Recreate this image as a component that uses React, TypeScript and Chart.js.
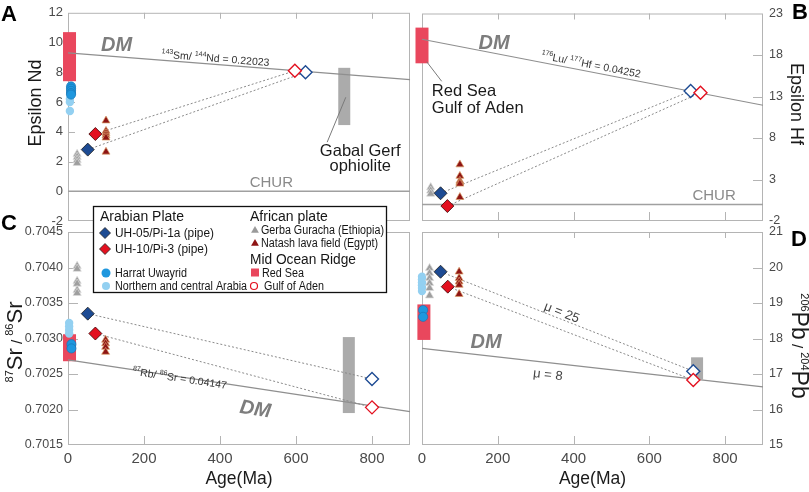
import React, { useEffect, useRef } from "react";
import { Chart, registerables } from "chart.js";
Chart.register(...registerables);

const FONT = "'Liberation Sans', Arial, Helvetica, sans-serif";
const W = 809;
const H = 492;

// colours
const NAVY = "#1d4b93";
const RED = "#e3101f";
const HARRAT = "#1f97de";
const NORTH = "#93d0f1";
const GERBA = "#9e9e9e";
const NATASH = "#8e1414";
const REDSEA = "#e9475d";
const GERF = "#ababab";
const LINE = "#8f8f8f";
const DOT = "#8a8a8a";
const FRAME = "#b4b4b4";

// ---------- shared age axis ----------
const ageMin = 0;
const ageMax = 900;
const ageTicks = [0, 200, 400, 600, 800];
const innerAgeTicks = [200, 400, 600, 800];
const dmAges = [0, 900];

// ---------- A : Epsilon Nd ----------
const ndTicks = [-2, 0, 2, 4, 6, 8, 10, 12];
const ndDM = [9.3, 7.5];
const ndChur = [0, 0];
const ndRedSeaAge = 4;
const ndRedSea = [7.4, 10.7];
const ndGerfAge = 727;
const ndGerf = [4.45, 8.3];
const ndHarratAge = 8;
const ndHarrat = [7.05, 6.9, 6.75, 6.6, 6.5];
const ndNorthAge = 5;
const ndNorth = [6.2, 6.0, 5.4];
const ndGerbaAge = 24;
const ndGerba = [2.5, 2.3, 2.1, 1.9];
const ndNatashAge = 100;
const ndNatash = [4.75, 4.05, 3.9, 3.75, 3.6, 2.65];
const ndUH05 = [52, 2.8];
const ndUH05Model = [625, 8.0];
const ndUH10 = [72, 3.85];
const ndUH10Model = [597, 8.1];

// ---------- B : Epsilon Hf ----------
const hfTicks = [-2, 3, 8, 13, 18, 23];
const hfDM = [19.9, 11.95];
const hfChur = [0, 0];
const hfRedSeaAge = 0;
const hfRedSea = [17.0, 21.3];
const hfGerbaAge = 23;
const hfGerba = [2.05, 1.65, 1.28];
const hfNatashAge = 100;
const hfNatash = [4.8, 3.42, 2.83, 2.65, 2.48, 0.87];
const hfUH05 = [49, 1.34];
const hfUH05Model = [709, 13.65];
const hfUH10 = [67, -0.2];
const hfUH10Model = [735, 13.45];

// ---------- C : 87Sr/86Sr ----------
const srTicks = [0.7015, 0.702, 0.7025, 0.703, 0.7035, 0.704, 0.7045];
const srDM = [0.7027, 0.70197];
const srRedSeaAge = 4;
const srRedSea = [0.70268, 0.70306];
const srGerfAge = 739;
const srGerf = [0.70195, 0.70302];
const srHarratAge = 9;
const srHarrat = [0.70292, 0.70286];
const srNorthAge = 3;
const srNorth = [0.70322, 0.70317, 0.70312, 0.70307];
const srGerbaAge = 24;
const srGerba = [0.70402, 0.70398, 0.70381, 0.70377, 0.70368, 0.70364];
const srNatashAge = 99;
const srNatash = [0.70298, 0.70293, 0.70288, 0.70281];
const srUH05 = [52, 0.70335];
const srUH05Model = [800, 0.70243];
const srUH10 = [72, 0.70307];
const srUH10Model = [800, 0.70203];

// ---------- D : 206Pb/204Pb ----------
const pbTicks = [15, 16, 17, 18, 19, 20, 21];
const pbDM = [17.72, 16.64];
const pbRedSeaAge = 5;
const pbRedSea = [17.96, 18.96];
const pbGerfAge = 726;
const pbGerf = [16.85, 17.47];
const pbHarratAge = 3;
const pbHarrat = [18.8, 18.61];
const pbNorthAge = 0;
const pbNorth = [19.74, 19.66, 19.58, 19.5, 19.42, 19.34];
const pbGerbaAge = 20;
const pbGerba = [19.98, 19.84, 19.7, 19.56, 19.42, 19.21];
const pbNatashAge = 98;
const pbNatash = [19.88, 19.7, 19.6, 19.51, 19.25];
const pbUH05 = [49, 19.88];
const pbUH05Model = [716, 17.08];
const pbUH10 = [68, 19.46];
const pbUH10Model = [716, 16.83];

// ---------- helpers ----------
type Seg = { t: string; s: number; sup?: boolean; f?: string };
type Note = {
  x: number;
  y: number;
  segs: Seg[];
  color: string;
  main: number;
  align?: "left" | "center";
  along?: number[][];
};

const pts = (age: number, ys: number[]) => ys.map((y) => ({ x: age, y }));
const pt = (p: number[]) => [{ x: p[0], y: p[1] }];
const seg = (a: number[], b: number[]) => [
  { x: a[0], y: a[1] },
  { x: b[0], y: b[1] },
];

const mk = (data: any[], style: string, r: number, bg: string, bd: string, bw: number) => ({
  data,
  pointStyle: style,
  pointRadius: r,
  pointBackgroundColor: bg,
  pointBorderColor: bd,
  pointBorderWidth: bw,
  showLine: false,
  clip: false,
});
const ln = (data: any[], color: string, width: number, dash: number[] = []) => ({
  data,
  showLine: true,
  borderColor: color,
  borderWidth: width,
  borderDash: dash,
  pointRadius: 0,
  fill: false,
  clip: false,
});

function drawRich(
  ctx: CanvasRenderingContext2D,
  segs: Seg[],
  cx: number,
  cy: number,
  rot: number,
  main: number,
  color: string,
  align: "left" | "center" = "center"
) {
  ctx.save();
  ctx.translate(cx, cy);
  ctx.rotate(rot);
  ctx.fillStyle = color;
  ctx.textBaseline = "alphabetic";
  ctx.textAlign = "left";
  const fonts = segs.map((s) => `${s.f || ""} ${s.s}px ${FONT}`.trim());
  let total = 0;
  const widths = segs.map((s, i) => {
    ctx.font = fonts[i];
    const w = ctx.measureText(s.t).width;
    total += w;
    return w;
  });
  let x = align === "center" ? -total / 2 : 0;
  const base = main * 0.36;
  segs.forEach((s, i) => {
    ctx.font = fonts[i];
    ctx.fillText(s.t, x, base - (s.sup ? main * 0.42 : 0));
    x += widths[i];
  });
  ctx.restore();
}

type Rect = { age: number; range: number[]; color: string; w: number };
type Title = { x: number; y: number; rot: number; segs: Seg[]; main: number };

interface PanelCfg {
  pad: { left: number; top: number; right: number; bottom: number };
  yMin: number;
  yMax: number;
  yTicks: number[];
  yPos: "left" | "right";
  yWidth: number;
  yFont: number;
  yDigits: number;
  yTickLen: number;
  showX: boolean;
  datasets: any[];
  rects: Rect[];
  notes: Note[];
  leaders: number[][][];
  title: Title;
  letter: { t: string; x: number; y: number };
  legend?: boolean;
}

function drawLegend(ctx: CanvasRenderingContext2D) {
  ctx.save();
  ctx.fillStyle = "#fff";
  ctx.fillRect(93, 206, 293, 86);
  ctx.strokeStyle = "#111";
  ctx.lineWidth = 1.3;
  ctx.strokeRect(93.5, 206.5, 293, 86);
  const txt = (t: string, x: number, y: number, size: number, maxW: number) => {
    ctx.fillStyle = "#151515";
    ctx.font = `${size}px ${FONT}`;
    ctx.textAlign = "left";
    ctx.textBaseline = "middle";
    ctx.fillText(t, x, y + 0.5, maxW);
  };
  const diamond = (x: number, y: number, r: number, fill: string) => {
    ctx.beginPath();
    ctx.moveTo(x - r, y);
    ctx.lineTo(x, y - r);
    ctx.lineTo(x + r, y);
    ctx.lineTo(x, y + r);
    ctx.closePath();
    ctx.fillStyle = fill;
    ctx.fill();
    ctx.strokeStyle = "#222";
    ctx.lineWidth = 0.8;
    ctx.stroke();
  };
  const tri = (x: number, y: number, r: number, fill: string) => {
    ctx.beginPath();
    ctx.moveTo(x, y - r);
    ctx.lineTo(x + r * 0.866, y + r * 0.5);
    ctx.lineTo(x - r * 0.866, y + r * 0.5);
    ctx.closePath();
    ctx.fillStyle = fill;
    ctx.fill();
  };
  const circ = (x: number, y: number, r: number, fill: string | null, stroke?: string) => {
    ctx.beginPath();
    ctx.arc(x, y, r, 0, Math.PI * 2);
    if (fill) {
      ctx.fillStyle = fill;
      ctx.fill();
    }
    if (stroke) {
      ctx.strokeStyle = stroke;
      ctx.lineWidth = 1.2;
      ctx.stroke();
    }
  };
  txt("Arabian Plate", 100, 217, 14, 84);
  txt("African plate", 250, 217, 14, 78);
  diamond(105, 233, 5.5, NAVY);
  txt("UH-05/Pi-1a (pipe)", 115, 233, 12.5, 99);
  diamond(105, 249, 5.5, RED);
  txt("UH-10/Pi-3 (pipe)", 115, 249, 12.5, 93);
  circ(106, 273, 4.5, HARRAT);
  txt("Harrat Uwayrid", 115, 273, 12, 72);
  circ(106, 286, 4, NORTH);
  txt("Northern and central Arabia", 115, 286, 12, 132);
  tri(255, 230.5, 4.5, "#9a9a9a");
  txt("Gerba Guracha (Ethiopia)", 261, 230, 12, 123);
  tri(255, 243.5, 4.5, NATASH);
  txt("Natash lava field (Egypt)", 261, 243, 12, 117);
  txt("Mid Ocean Ridge", 250, 260, 14, 106);
  ctx.fillStyle = REDSEA;
  ctx.fillRect(251, 268.5, 8, 8);
  txt("Red Sea", 262, 273, 12, 42);
  circ(254, 286, 3.5, null, RED);
  txt("Gulf of Aden", 264, 286, 12, 60);
  ctx.restore();
}

function makePlugin(cfg: PanelCfg) {
  return {
    id: "panelDecor",
    beforeDatasetsDraw(chart: any) {
      const { ctx, chartArea: a } = chart;
      const xs = chart.scales.x;
      const ys = chart.scales.y;
      ctx.save();
      ctx.strokeStyle = FRAME;
      ctx.lineWidth = 1;
      ctx.strokeRect(a.left + 0.5, a.top + 0.5, a.right - a.left - 1, a.bottom - a.top - 1);
      ctx.beginPath();
      innerAgeTicks.forEach((v) => {
        const px = Math.round(xs.getPixelForValue(v)) + 0.5;
        ctx.moveTo(px, a.top);
        ctx.lineTo(px, a.top + 6);
        ctx.moveTo(px, a.bottom);
        ctx.lineTo(px, a.bottom - 9);
      });
      cfg.yTicks.slice(1, -1).forEach((v) => {
        const py = Math.round(ys.getPixelForValue(v)) + 0.5;
        if (cfg.yPos === "left") {
          ctx.moveTo(a.left, py);
          ctx.lineTo(a.left + cfg.yTickLen, py);
        } else {
          ctx.moveTo(a.right, py);
          ctx.lineTo(a.right - cfg.yTickLen, py);
        }
      });
      ctx.stroke();
      // range bars
      cfg.rects.forEach((r) => {
        const cx = xs.getPixelForValue(r.age);
        const y1 = ys.getPixelForValue(r.range[1]);
        const y0 = ys.getPixelForValue(r.range[0]);
        ctx.fillStyle = r.color;
        ctx.fillRect(cx - r.w / 2, y1, r.w, y0 - y1);
      });
      // leader lines
      ctx.strokeStyle = "#7a7a7a";
      ctx.lineWidth = 1;
      cfg.leaders.forEach((l) => {
        ctx.beginPath();
        ctx.moveTo(xs.getPixelForValue(l[0][0]), ys.getPixelForValue(l[0][1]));
        ctx.lineTo(xs.getPixelForValue(l[1][0]), ys.getPixelForValue(l[1][1]));
        ctx.stroke();
      });
      ctx.restore();
    },
    afterDraw(chart: any) {
      const { ctx } = chart;
      const xs = chart.scales.x;
      const ys = chart.scales.y;
      cfg.notes.forEach((n) => {
        let rot = 0;
        if (n.along) {
          const x1 = xs.getPixelForValue(n.along[0][0]);
          const y1 = ys.getPixelForValue(n.along[0][1]);
          const x2 = xs.getPixelForValue(n.along[1][0]);
          const y2 = ys.getPixelForValue(n.along[1][1]);
          rot = Math.atan2(y2 - y1, x2 - x1);
        }
        drawRich(ctx, n.segs, xs.getPixelForValue(n.x), ys.getPixelForValue(n.y), rot, n.main, n.color, n.align || "center");
      });
      const t = cfg.title;
      drawRich(ctx, t.segs, t.x, t.y, t.rot, t.main, "#1a1a1a");
      drawRich(ctx, [{ t: cfg.letter.t, s: 22, f: "bold" }], cfg.letter.x, cfg.letter.y, 0, 22, "#000");
      if (cfg.legend) drawLegend(ctx);
    },
  };
}

function buildConfig(cfg: PanelCfg): any {
  return {
    type: "scatter",
    data: { datasets: cfg.datasets },
    options: {
      responsive: false,
      animation: false,
      events: [],
      layout: { padding: cfg.pad },
      plugins: { legend: { display: false }, tooltip: { enabled: false } },
      scales: {
        x: {
          type: "linear",
          min: ageMin,
          max: ageMax,
          display: cfg.showX,
          position: "bottom",
          afterBuildTicks: (s: any) => {
            s.ticks = ageTicks.map((v) => ({ value: v }));
          },
          afterFit: (s: any) => {
            s.height = cfg.showX ? 47 : 0;
          },
          grid: { display: false, drawTicks: false },
          border: { display: false },
          ticks: {
            autoSkip: false,
            maxRotation: 0,
            padding: 5,
            color: "#4a4a4a",
            font: { family: FONT, size: 15 },
            callback: (v: any) => String(v),
          },
          title: {
            display: cfg.showX,
            text: "Age(Ma)",
            color: "#1a1a1a",
            font: { family: FONT, size: 17.5 },
            padding: { top: 0, bottom: 2.5 },
          },
        },
        y: {
          type: "linear",
          min: cfg.yMin,
          max: cfg.yMax,
          position: cfg.yPos,
          afterBuildTicks: (s: any) => {
            s.ticks = cfg.yTicks.map((v) => ({ value: v }));
          },
          afterFit: (s: any) => {
            s.width = cfg.yWidth;
          },
          grid: { display: false, drawTicks: false },
          border: { display: false },
          ticks: {
            autoSkip: false,
            padding: cfg.yPos === "left" ? 5 : 6,
            color: "#4a4a4a",
            font: { family: FONT, size: cfg.yFont },
            callback: (v: any) => Number(v).toFixed(cfg.yDigits),
          },
        },
      },
    },
    plugins: [makePlugin(cfg)],
  };
}

const dmLbl = (x: number, y: number, along?: number[][]): Note => ({
  x,
  y,
  segs: [{ t: "DM", s: 20, f: "italic bold" }],
  color: "#7d7d7d",
  main: 20,
  along,
});
const churLbl = (x: number, y: number): Note => ({
  x,
  y,
  segs: [{ t: "CHUR", s: 15 }],
  color: "#8a8a8a",
  main: 15,
});

function markerSets(d: any) {
  return [
    mk(pt(d.m10), "rectRot", 6.5, "#fff", RED, 1.4),
    mk(pt(d.m05), "rectRot", 6.5, "#fff", NAVY, 1.4),
    mk(pt(d.u05), "rectRot", 6.5, NAVY, "#1a1a1a", 0.8),
    mk(pt(d.u10), "rectRot", 6.5, RED, "#3a0000", 0.8),
    mk(pts(d.natAge, d.nat), "triangle", 4.6, NATASH, "#dba06a", 0.7),
    mk(pts(d.gerAge, d.ger), "triangle", 4.8, GERBA, "#dcdcdc", 0.7),
    ...(d.har ? [mk(pts(d.harAge, d.har), "circle", 4.6, HARRAT, "#1670b0", 0.6)] : []),
    ...(d.nor ? [mk(pts(d.norAge, d.nor), "circle", 4.2, NORTH, NORTH, 0)] : []),
    ln(seg(d.u05, d.m05), DOT, 1, [2, 2]),
    ln(seg(d.u10, d.m10), DOT, 1, [2, 2]),
  ];
}

const panelA: PanelCfg = {
  pad: { left: 0, top: 9, right: 399, bottom: 271 },
  yMin: -2,
  yMax: 12,
  yTicks: ndTicks,
  yPos: "left",
  yWidth: 68,
  yFont: 13,
  yDigits: 0,
  yTickLen: 7,
  showX: false,
  datasets: [
    ...markerSets({
      m10: ndUH10Model, m05: ndUH05Model, u05: ndUH05, u10: ndUH10,
      natAge: ndNatashAge, nat: ndNatash, gerAge: ndGerbaAge, ger: ndGerba,
      harAge: ndHarratAge, har: ndHarrat, norAge: ndNorthAge, nor: ndNorth,
    }),
    ln(seg([dmAges[0], ndDM[0]], [dmAges[1], ndDM[1]]), LINE, 1.2),
    ln(seg([dmAges[0], ndChur[0]], [dmAges[1], ndChur[1]]), "#a0a0a0", 1.5),
  ],
  rects: [
    { age: ndRedSeaAge, range: ndRedSea, color: REDSEA, w: 13 },
    { age: ndGerfAge, range: ndGerf, color: GERF, w: 12 },
  ],
  notes: [
    dmLbl(128, 9.9),
    {
      x: 388, y: 8.96, color: "#333", main: 10.5,
      segs: [{ t: "143", s: 7, sup: true }, { t: "Sm/ ", s: 10.5 }, { t: "144", s: 7, sup: true }, { t: "Nd = 0.22023", s: 10.5 }],
      along: [[dmAges[0], ndDM[0]], [dmAges[1], ndDM[1]]],
    },
    churLbl(535, 0.64),
    { x: 769, y: 2.76, segs: [{ t: "Gabal Gerf", s: 16.5 }], color: "#1a1a1a", main: 16.5 },
    { x: 769, y: 1.73, segs: [{ t: "ophiolite", s: 16.5 }], color: "#1a1a1a", main: 16.5 },
  ],
  leaders: [[[731, 6.32], [682, 3.3]]],
  title: { x: 35, y: 103, rot: -Math.PI / 2, main: 18, segs: [{ t: "Epsilon Nd", s: 18 }] },
  letter: { t: "A", x: 9, y: 13 },
};

const panelB: PanelCfg = {
  pad: { left: 422, top: 9, right: 0, bottom: 271 },
  yMin: -2,
  yMax: 23,
  yTicks: hfTicks,
  yPos: "right",
  yWidth: 46,
  yFont: 12.5,
  yDigits: 0,
  yTickLen: 10,
  showX: false,
  datasets: [
    ...markerSets({
      m10: hfUH10Model, m05: hfUH05Model, u05: hfUH05, u10: hfUH10,
      natAge: hfNatashAge, nat: hfNatash, gerAge: hfGerbaAge, ger: hfGerba,
    }),
    ln(seg([dmAges[0], hfDM[0]], [dmAges[1], hfDM[1]]), LINE, 1.2),
    ln(seg([dmAges[0], hfChur[0]], [dmAges[1], hfChur[1]]), "#a0a0a0", 1.5),
  ],
  rects: [{ age: hfRedSeaAge, range: hfRedSea, color: REDSEA, w: 13 }],
  notes: [
    dmLbl(190, 19.58),
    {
      x: 446, y: 16.87, color: "#333", main: 10.5,
      segs: [{ t: "176", s: 7, sup: true }, { t: "Lu/ ", s: 10.5 }, { t: "177", s: 7, sup: true }, { t: "Hf = 0.04252", s: 10.5 }],
      along: [[dmAges[0], hfDM[0]], [dmAges[1], hfDM[1]]],
    },
    churLbl(771, 1.18),
    { x: 26, y: 13.74, segs: [{ t: "Red Sea", s: 16.5 }], color: "#1a1a1a", main: 16.5, align: "left" },
    { x: 26, y: 11.68, segs: [{ t: "Gulf of Aden", s: 16.5 }], color: "#1a1a1a", main: 16.5, align: "left" },
  ],
  leaders: [[[12.4, 17.19], [52, 14.83]]],
  title: { x: 797, y: 104, rot: Math.PI / 2, main: 18, segs: [{ t: "Epsilon Hf", s: 18 }] },
  letter: { t: "B", x: 800, y: 11 },
};

const panelC: PanelCfg = {
  pad: { left: 0, top: 232, right: 399, bottom: 0 },
  yMin: 0.7015,
  yMax: 0.7045,
  yTicks: srTicks,
  yPos: "left",
  yWidth: 68,
  yFont: 12.5,
  yDigits: 4,
  yTickLen: 10,
  showX: true,
  datasets: [
    ...markerSets({
      m10: srUH10Model, m05: srUH05Model, u05: srUH05, u10: srUH10,
      natAge: srNatashAge, nat: srNatash, gerAge: srGerbaAge, ger: srGerba,
      harAge: srHarratAge, har: srHarrat, norAge: srNorthAge, nor: srNorth,
    }),
    ln(seg([dmAges[0], srDM[0]], [dmAges[1], srDM[1]]), LINE, 1.2),
  ],
  rects: [
    { age: srRedSeaAge, range: srRedSea, color: REDSEA, w: 13 },
    { age: srGerfAge, range: srGerf, color: GERF, w: 12 },
  ],
  notes: [
    {
      x: 294, y: 0.702444, color: "#333", main: 10.5,
      segs: [{ t: "87", s: 7, sup: true }, { t: "Rb/ ", s: 10.5 }, { t: "86", s: 7, sup: true }, { t: "Sr = 0.04147", s: 10.5 }],
      along: [[dmAges[0], srDM[0]], [dmAges[1], srDM[1]]],
    },
    dmLbl(493, 0.702021, [[dmAges[0], srDM[0]], [dmAges[1], srDM[1]]]),
  ],
  leaders: [],
  title: {
    x: 14, y: 342, rot: -Math.PI / 2, main: 22,
    segs: [{ t: "87", s: 11, sup: true }, { t: "Sr", s: 22 }, { t: " / ", s: 15 }, { t: "86", s: 11, sup: true }, { t: "Sr", s: 22 }],
  },
  letter: { t: "C", x: 9, y: 222 },
  legend: true,
};

const panelD: PanelCfg = {
  pad: { left: 422, top: 232, right: 0, bottom: 0 },
  yMin: 15,
  yMax: 21,
  yTicks: pbTicks,
  yPos: "right",
  yWidth: 46,
  yFont: 12.5,
  yDigits: 0,
  yTickLen: 10,
  showX: true,
  datasets: [
    ...markerSets({
      m10: pbUH10Model, m05: pbUH05Model, u05: pbUH05, u10: pbUH10,
      natAge: pbNatashAge, nat: pbNatash, gerAge: pbGerbaAge, ger: pbGerba,
      harAge: pbHarratAge, har: pbHarrat, norAge: pbNorthAge, nor: pbNorth,
    }),
    ln(seg([dmAges[0], pbDM[0]], [dmAges[1], pbDM[1]]), LINE, 1.2),
  ],
  rects: [
    { age: pbRedSeaAge, range: pbRedSea, color: REDSEA, w: 13 },
    { age: pbGerfAge, range: pbGerf, color: GERF, w: 12 },
  ],
  notes: [
    { x: 369.5, y: 18.75, segs: [{ t: "μ = 25", s: 13 }], color: "#444", main: 13, along: [pbUH05, pbUH05Model] },
    { x: 332.5, y: 17.0, segs: [{ t: "μ = 8", s: 13 }], color: "#444", main: 13, along: [[dmAges[0], pbDM[0]], [dmAges[1], pbDM[1]]] },
    dmLbl(169, 17.93),
  ],
  leaders: [],
  title: {
    x: 800, y: 346, rot: Math.PI / 2, main: 23,
    segs: [{ t: "206", s: 11, sup: true }, { t: "Pb", s: 23 }, { t: " / ", s: 15 }, { t: "204", s: 11, sup: true }, { t: "Pb", s: 23 }],
  },
  letter: { t: "D", x: 799, y: 238 },
};

const PANELS = [panelA, panelB, panelC, panelD];

export default function App() {
  const refs = [useRef<HTMLCanvasElement>(null), useRef<HTMLCanvasElement>(null), useRef<HTMLCanvasElement>(null), useRef<HTMLCanvasElement>(null)];
  useEffect(() => {
    const charts = PANELS.map((p, i) => new Chart(refs[i].current as HTMLCanvasElement, buildConfig(p)));
    return () => charts.forEach((c) => c.destroy());
  }, []);
  return (
    <div style={{ position: "fixed", left: 0, top: 0, width: W, height: H, background: "#fff", overflow: "hidden" }}>
      {PANELS.map((_, i) => (
        <canvas
          key={i}
          ref={refs[i]}
          width={W}
          height={H}
          style={{ position: "absolute", left: 0, top: 0, width: W, height: H }}
        />
      ))}
    </div>
  );
}
